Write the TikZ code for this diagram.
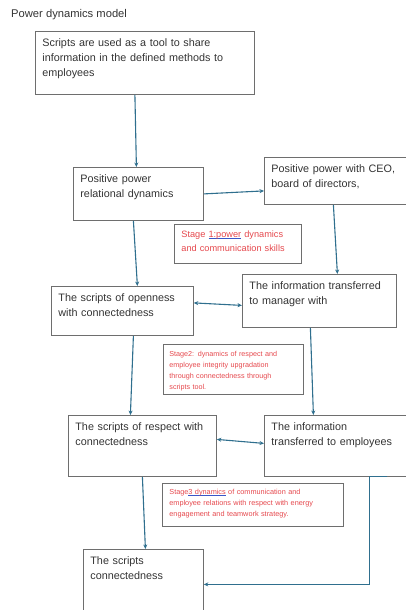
\documentclass[tikz,border=0pt]{standalone}
\usepackage{fontspec}
\setmainfont{Liberation Sans}
\usetikzlibrary{arrows.meta}
\definecolor{linkblue}{HTML}{2F6F8E}
\definecolor{framegray}{HTML}{6E6E6E}
\definecolor{inkgray}{HTML}{333333}
\definecolor{stagered}{HTML}{E5484D}
\definecolor{spellblue}{HTML}{3A56C8}
\newsavebox{\spellbox}
\newcommand{\spellmark}[1]{\leavevmode\sbox{\spellbox}{#1}\rlap{\textcolor{spellblue}{\rule[-1.3pt]{\wd\spellbox}{0.7pt}}}\usebox{\spellbox}}

\begin{document}
\begin{tikzpicture}[x=1pt,y=-1pt,
    box/.style={draw=framegray, line width=0.8pt, anchor=north west, inner xsep=7pt, inner ysep=5pt,
      text height=10pt, align=left, text=inkgray, font=\fontsize{10.8}{15.3}\selectfont},
    stagebox/.style={box, text=stagered},
    link/.style={draw=linkblue, line width=1.1pt, -{Stealth[length=4.5pt,width=4pt]}},
    twoway/.style={link, {Stealth[length=4.5pt,width=4pt]}-{Stealth[length=4.5pt,width=4pt]}}]

  \useasboundingbox (0,0) rectangle (406,610);

  \node[anchor=west, text=inkgray, font=\fontsize{11.2}{13}\selectfont, inner sep=0pt] (title) at (11,15) {Power dynamics model};

  \node[box, text width=205pt, text depth=43pt] (A) at (35,31)
    {Scripts are used as a tool to share\\information in the defined methods to\\employees};
  \node[box, text width=116pt, text depth=33pt] (B) at (73,167)
    {Positive power\\relational dynamics};
  \node[box, text width=136pt, text depth=27pt] (C) at (264,157)
    {Positive power with CEO,\\board of directors,};
  \node[box, text width=128pt, text depth=29pt] (D) at (51,286)
    {The scripts of openness\\with connectedness};
  \node[box, text width=140pt, text depth=33pt] (E) at (242,274)
    {The information transferred\\to manager with};
  \node[box, text width=134pt, text depth=41pt] (F) at (68,415)
    {The scripts of respect with\\connectedness};
  \node[box, text width=136pt, text depth=41pt] (G) at (264,415)
    {The information\\transferred to employees};
  \node[box, text width=106pt, text depth=50pt] (H) at (83,549)
    {The scripts\\connectedness};

  \node[stagebox, text width=113pt, text height=8pt, text depth=21pt, font=\fontsize{9.2}{14}\selectfont] (S1) at (174,224)
    {Stage \spellmark{1:power} dynamics\\and communication skills};
  \node[stagebox, inner xsep=6pt, text width=128pt, text height=7.5pt, text depth=32.5pt, font=\fontsize{7.2}{10.8}\selectfont] (S2) at (163,344)
    {Stage2: dynamics of respect and\\employee integrity upgradation\\through connectedness through\\scripts tool.};
  \node[stagebox, inner ysep=4pt, text width=167pt, text height=7pt, text depth=28pt, font=\fontsize{7.3}{11}\selectfont] (S3) at (162,483)
    {Stage\spellmark{3 dynamics} of communication and\\employee relations with respect with energy\\engagement and teamwork strategy.};

  \path[link] ([xshift=-10pt]A.south) -- ([xshift=-2pt]B.north);
  \path[link] (B.east) -- ([yshift=-10pt]C.west);
  \path[link] ([xshift=-5pt]B.south) -- ([xshift=15pt]D.north);
  \path[link] ([xshift=-6pt]C.south) -- ([xshift=18pt]E.north);
  \path[twoway] ([yshift=8pt]D.east) -- ([yshift=-4.5pt]E.west);
  \path[link] ([xshift=11pt]D.south) -- ([xshift=-12pt]F.north);
  \path[link] ([xshift=-9pt]E.south) -- ([xshift=-26pt]G.north);
  \path[twoway] ([yshift=6.5pt]F.east) -- ([yshift=2.5pt]G.west);
  \path[link] (F.south) -- ([xshift=2pt]H.north);
  \path[link] ([xshift=48pt]G.south) -- ([xshift=30pt]G.south) |- (H.east);

\end{tikzpicture}
\end{document}
